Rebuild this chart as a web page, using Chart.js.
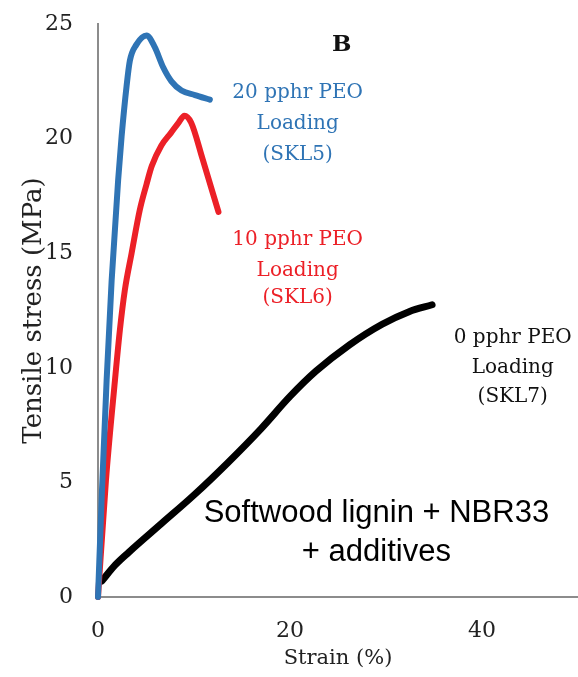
<!DOCTYPE html>
<html>
<head>
<meta charset="utf-8">
<script src="https://cdn.jsdelivr.net/npm/chart.js@4/dist/chart.umd.min.js"></script>
<style>
  html, body { margin: 0; padding: 0; background: #fff; }
  #wrap { width: 578px; height: 677px; }
</style>
</head>
<body>
<div id="wrap"><canvas id="stressChart" width="578" height="677"></canvas></div>
<script>
// --- Data (strain %, stress MPa) ---
const skl5Strain = [0, 0.4, 0.9, 1.42, 2.1, 2.46, 2.98, 3.32, 4.0, 5.05, 5.9, 6.8, 7.65, 8.7, 10.1, 11.65];
const skl5Stress = [0, 4.5, 9.47, 13.8, 18.2, 20.1, 22.3, 23.4, 24.1, 24.5, 24.0, 23.1, 22.5, 22.1, 21.9, 21.7];

const skl6Strain = [0, 0.83, 1.77, 2.28, 2.8, 3.5, 4.36, 5.05, 5.6, 6.6, 7.6, 8.4, 9.0, 9.7, 10.9, 12.55];
const skl6Stress = [0, 5.1, 9.47, 11.65, 13.4, 15.0, 16.9, 18.0, 18.8, 19.7, 20.25, 20.7, 21.0, 20.7, 19.1, 16.8];

const skl7Strain = [0.4, 1.8, 3.2, 6.6, 10, 13.5, 17, 20, 22.7, 26.2, 29.6, 32.4, 34.8];
const skl7Stress = [0.7, 1.4, 1.95, 3.2, 4.45, 5.85, 7.35, 8.75, 9.85, 11.0, 11.9, 12.45, 12.75];

const xTicks = [0, 20, 40];
const yTicks = [0, 5, 10, 15, 20, 25];

const toPoints = (xs, ys) => xs.map((x, i) => ({ x: x, y: ys[i] }));

const BLUE = "#2f74b5";
const RED = "#ec2027";
const SERIF = "'DejaVu Serif', serif";
const SANS = "'Liberation Sans', Arial, sans-serif";

// text labels placed in data coordinates
const notes = [
  { text: "B", x: 25.4, y: 24.1, color: "#111", font: "bold 23px " + SERIF },
  { text: "20 pphr PEO", x: 20.8, y: 22.0, color: BLUE, font: "20px " + SERIF },
  { text: "Loading", x: 20.8, y: 20.65, color: BLUE, font: "20px " + SERIF },
  { text: "(SKL5)", x: 20.8, y: 19.3, color: BLUE, font: "20px " + SERIF },
  { text: "10 pphr PEO", x: 20.8, y: 15.6, color: RED, font: "20px " + SERIF },
  { text: "Loading", x: 20.8, y: 14.25, color: RED, font: "20px " + SERIF },
  { text: "(SKL6)", x: 20.8, y: 13.05, color: RED, font: "20px " + SERIF },
  { text: "0 pphr PEO", x: 43.2, y: 11.3, color: "#111", font: "20px " + SERIF },
  { text: "Loading", x: 43.2, y: 10.0, color: "#111", font: "20px " + SERIF },
  { text: "(SKL7)", x: 43.2, y: 8.73, color: "#111", font: "20px " + SERIF },
  { text: "Softwood lignin + NBR33", x: 29.0, y: 3.66, color: "#000", font: "31px " + SANS },
  { text: "+ additives", x: 29.0, y: 1.96, color: "#000", font: "31px " + SANS }
];

const notesPlugin = {
  id: "notes",
  afterDatasetsDraw(chart) {
    const ctx = chart.ctx;
    const xs = chart.scales.x, ys = chart.scales.y;
    ctx.save();
    ctx.textAlign = "center";
    ctx.textBaseline = "middle";
    notes.forEach(n => {
      ctx.font = n.font;
      ctx.fillStyle = n.color;
      ctx.fillText(n.text, xs.getPixelForValue(n.x), ys.getPixelForValue(n.y));
    });
    ctx.restore();
  }
};

const lineStyle = {
  pointRadius: 0,
  fill: false,
  borderCapStyle: "round",
  borderJoinStyle: "round",
  cubicInterpolationMode: "monotone"
};

new Chart(document.getElementById("stressChart"), {
  type: "line",
  data: {
    datasets: [
      Object.assign({ label: "SKL5", data: toPoints(skl5Strain, skl5Stress), borderColor: BLUE, borderWidth: 6 }, lineStyle),
      Object.assign({ label: "SKL6", data: toPoints(skl6Strain, skl6Stress), borderColor: RED, borderWidth: 6 }, lineStyle),
      Object.assign({ label: "SKL7", data: toPoints(skl7Strain, skl7Stress), borderColor: "#000", borderWidth: 7 }, lineStyle)
    ]
  },
  options: {
    responsive: false,
    animation: false,
    clip: false,
    layout: { padding: { top: 24, right: 0, bottom: 6, left: 0 } },
    plugins: { legend: { display: false }, tooltip: { enabled: false } },
    scales: {
      x: {
        type: "linear",
        min: 0,
        max: 50,
        afterBuildTicks: s => { s.ticks = xTicks.map(v => ({ value: v })); },
        afterFit: s => { s.height = 74; },
        grid: { display: false, drawOnChartArea: false, drawTicks: true, tickLength: 8, tickColor: "#8c8c8c" },
        border: { color: "#8c8c8c", width: 2 },
        ticks: { color: "#222", font: { family: SERIF, size: 22 }, padding: 13, maxRotation: 0 },
        title: { display: true, text: "Strain (%)", color: "#222", font: { family: SERIF, size: 21 }, padding: { top: 0, bottom: 0 } }
      },
      y: {
        type: "linear",
        min: 0,
        max: 25,
        afterBuildTicks: s => { s.ticks = yTicks.map(v => ({ value: v })); },
        afterFit: s => { s.width = 98; s.paddingTop = 10; s.paddingBottom = 10; },
        grid: { display: false, drawOnChartArea: false, drawTicks: true, tickLength: 8, tickColor: "#8c8c8c" },
        border: { color: "#8c8c8c", width: 2 },
        ticks: { color: "#222", font: { family: SERIF, size: 22 }, padding: 17 },
        title: { display: true, text: "Tensile stress (MPa)", color: "#222", font: { family: SERIF, size: 26 }, padding: { top: 19, bottom: 0 } }
      }
    }
  },
  plugins: [notesPlugin]
});
</script>
</body>
</html>
